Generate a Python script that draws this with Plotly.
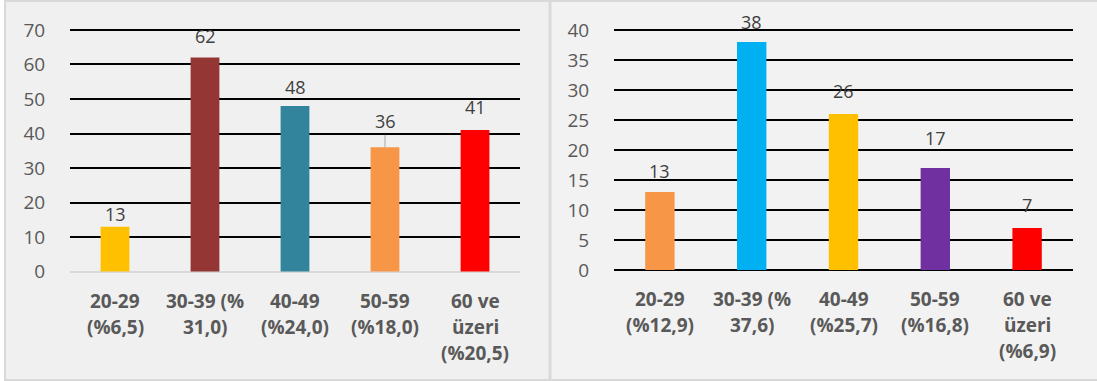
import plotly.graph_objects as go

# ---- data ----
categories = ["20-29", "30-39", "40-49", "50-59", "60 ve üzeri"]

left_values = [13, 62, 48, 36, 41]
left_labels = [["20-29", "(%6,5)"], ["30-39 (%", "31,0)"], ["40-49", "(%24,0)"],
               ["50-59", "(%18,0)"], ["60 ve", "üzeri", "(%20,5)"]]
left_colors = ["#FFC000", "#943634", "#31849B", "#F79646", "#FF0000"]

right_values = [13, 38, 26, 17, 7]
right_labels = [["20-29", "(%12,9)"], ["30-39 (%", "37,6)"], ["40-49", "(%25,7)"],
                ["50-59", "(%16,8)"], ["60 ve", "üzeri", "(%6,9)"]]
right_colors = ["#F79646", "#00B0F0", "#FFC000", "#7030A0", "#FF0000"]

left_ticks = [0, 10, 20, 30, 40, 50, 60, 70]
right_ticks = [0, 5, 10, 15, 20, 25, 30, 35, 40]

# label nudges (px above bar top)
left_dy = [13, 22, 19, 26, 23]
right_dy = [21, 20, 23, 30, 23]
left_leader = [False, False, False, True, False]

W, H = 1097, 381
FONT = "Open Sans"
TICK_COLOR = "#595959"
LABEL_COLOR = "#404040"


def ydomain(y_zero_px, y_top_px, vmax, pad):
    ppu = (y_zero_px - y_top_px) / vmax
    bottom = y_zero_px + pad * ppu
    top = y_top_px - pad * ppu
    return [(H - bottom) / H, (H - top) / H]


fig = go.Figure()
fig.add_trace(go.Bar(x=categories, y=left_values, marker_color=left_colors,
                     marker_line_width=0, xaxis="x", yaxis="y", showlegend=False))
fig.add_trace(go.Bar(x=categories, y=right_values, marker_color=right_colors,
                     marker_line_width=0, xaxis="x2", yaxis="y2", showlegend=False))

annotations = []
for xref, yref, vals, dys, labels, leaders in [
    ("x", "y", left_values, left_dy, left_labels, left_leader),
    ("x2", "y2", right_values, right_dy, right_labels, [False] * 5),
]:
    for cat, v, dy, lab, lead in zip(categories, vals, dys, labels, leaders):
        if lead:
            annotations.append(dict(
                x=cat, y=v, xref=xref, yref=yref, text=str(v), showarrow=True,
                ax=0, ay=-dy, arrowhead=0, arrowwidth=1, arrowcolor="#a6a6a6",
                standoff=0, font=dict(family=FONT, size=18, color=LABEL_COLOR)))
        else:
            annotations.append(dict(
                x=cat, y=v, xref=xref, yref=yref, text=str(v), showarrow=False,
                yanchor="middle", yshift=dy,
                font=dict(family=FONT, size=18, color=LABEL_COLOR)))
        for j, line in enumerate(lab):
            annotations.append(dict(
                x=cat, y=0, xref=xref, yref=yref, text="<b>" + line + "</b>",
                showarrow=False, yanchor="middle", yshift=-(29 + 26 * j),
                font=dict(family=FONT, size=19, color=TICK_COLOR)))

shapes = [
    dict(type="rect", xref="paper", yref="paper", x0=5 / W, x1=549.5 / W,
         y0=1 / H, y1=1 - 1 / H, fillcolor="#F0F0F0",
         line=dict(color="#D9D9D9", width=2), layer="below"),
    dict(type="rect", xref="paper", yref="paper", x0=550.5 / W, x1=1.01,
         y0=1 / H, y1=1 - 1 / H, fillcolor="#F2F2F2",
         line=dict(color="#D9D9D9", width=2), layer="below"),
]

yax_common = dict(showgrid=True, gridcolor="#000000", gridwidth=2,
                  showline=False, ticks="outside", ticklen=20,
                  tickcolor="rgba(0,0,0,0)", automargin=False,
                  tickfont=dict(family=FONT, size=19, color=TICK_COLOR),
                  fixedrange=True)
xax_common = dict(showticklabels=False, showgrid=False, showline=False,
                  ticks="", fixedrange=True, automargin=False)

PAD_L, PAD_R = 0.3, 0.2

fig.update_layout(
    template="none",
    width=W, height=H, autosize=False,
    margin=dict(l=0, r=0, t=0, b=0, pad=0, autoexpand=False),
    paper_bgcolor="#FFFFFF", plot_bgcolor="rgba(0,0,0,0)",
    bargap=0.68,
    xaxis=dict(domain=[70 / W, 520 / W], anchor="y", **xax_common),
    yaxis=dict(domain=ydomain(271.5, 30, 70, PAD_L), anchor="x",
               range=[-PAD_L, 70 + PAD_L], tickvals=left_ticks, zeroline=True,
               zerolinecolor="#D9D9D9", zerolinewidth=2, **yax_common),
    xaxis2=dict(domain=[614 / W, 1073 / W], anchor="y2", **xax_common),
    yaxis2=dict(domain=ydomain(270, 30, 40, PAD_R), anchor="x2",
                range=[-PAD_R, 40 + PAD_R], tickvals=right_ticks, zeroline=True,
                zerolinecolor="#000000", zerolinewidth=2, **yax_common),
    annotations=annotations,
    shapes=shapes,
)

fig.write_html("out.html", config={"displayModeBar": False})
